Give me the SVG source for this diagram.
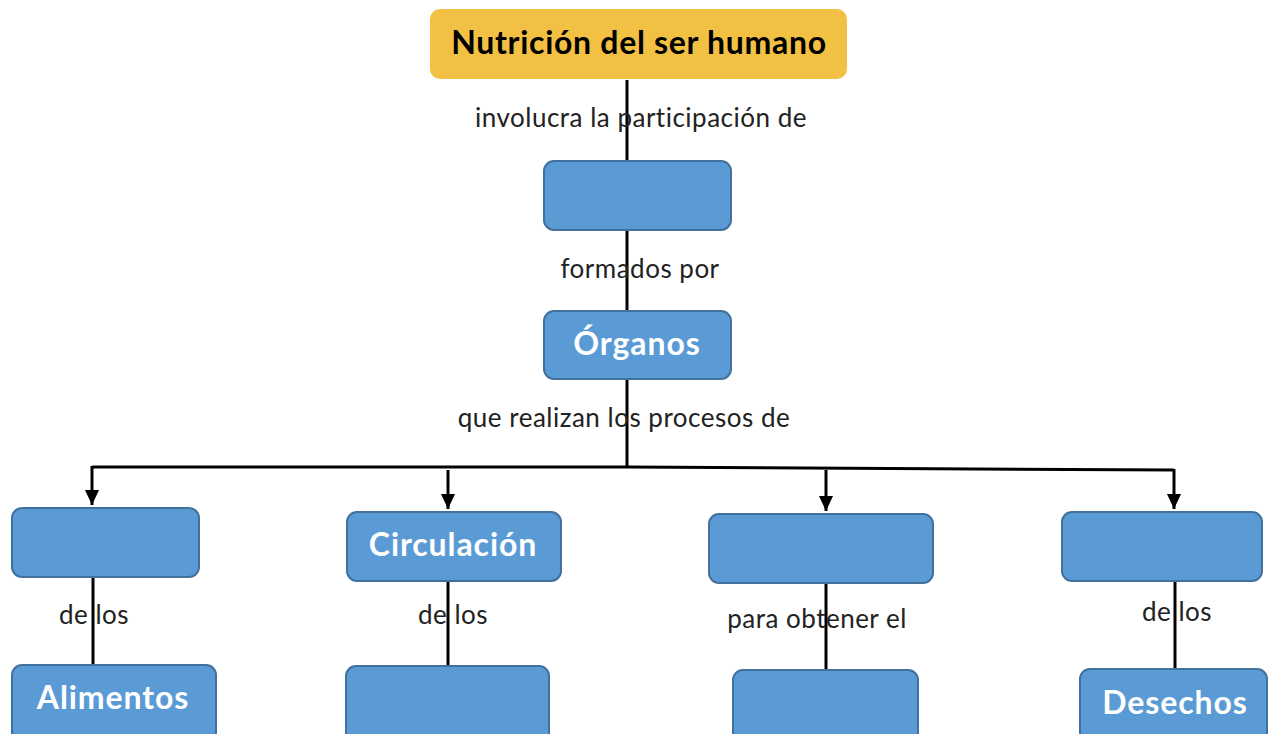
<svg xmlns="http://www.w3.org/2000/svg" width="1269" height="734" viewBox="0 0 1269 734">
<defs>
<marker id="arr" markerUnits="userSpaceOnUse" markerWidth="16" markerHeight="14" refX="15" refY="7" orient="auto" viewBox="0 0 16 14">
<path d="M0,0 L15,7 L0,14 Z" fill="#000"/>
</marker>
</defs>
<style>
.box{fill:#5b9bd5;stroke:#41719c;stroke-width:2}
.title{fill:#f2c043}
.lbl{font-family:Lato,"Open Sans",sans-serif;font-size:26px;letter-spacing:0.5px;fill:#222;text-anchor:middle}
.nt{font-family:Lato,"Open Sans",sans-serif;font-size:32px;letter-spacing:0.9px;font-weight:bold;fill:#fff;text-anchor:middle}
.tt{font-family:Lato,"Open Sans",sans-serif;font-size:32px;letter-spacing:0.7px;font-weight:bold;fill:#000;text-anchor:middle}
.ln{stroke:#000;stroke-width:3;fill:none}
</style>
<rect width="1269" height="734" fill="#fff"/>
<g id="connectors">
<line class="ln" x1="627" y1="80" x2="627" y2="161"/>
<line class="ln" x1="627" y1="230" x2="627" y2="311"/>
<polyline class="ln" points="627,379 627,467"/>
<polyline class="ln" points="92,467 627,467 1174,470"/>
<line class="ln" x1="92" y1="466" x2="92" y2="505" marker-end="url(#arr)"/>
<line class="ln" x1="448" y1="470" x2="448" y2="509" marker-end="url(#arr)"/>
<line class="ln" x1="826" y1="470" x2="826" y2="511" marker-end="url(#arr)"/>
<line class="ln" x1="1174" y1="469" x2="1174" y2="509" marker-end="url(#arr)"/>
<line class="ln" x1="93" y1="577" x2="93" y2="665"/>
<line class="ln" x1="448" y1="581" x2="448" y2="666"/>
<line class="ln" x1="826" y1="583" x2="826" y2="671"/>
<line class="ln" x1="1175" y1="581" x2="1175" y2="669"/>
<text class="lbl" x="641" y="127">involucra la participación de</text>
<text class="lbl" x="640" y="278">formados por</text>
<text class="lbl" x="624" y="427">que realizan los procesos de</text>
<text class="lbl" x="94" y="624">de los</text>
<text class="lbl" x="453" y="624">de los</text>
<text class="lbl" x="817" y="628">para obtener el</text>
<text class="lbl" x="1177" y="621">de los</text>
</g>
<g id="n-title"><rect class="title" x="430" y="9" width="417" height="70" rx="10"/><text class="tt" x="639" y="54">Nutrición del ser humano</text></g>
<g id="n-sistemas"><rect class="box" x="544" y="161" width="187" height="69" rx="10"/></g>
<g id="n-organos"><rect class="box" x="544" y="311" width="187" height="68" rx="10"/><text class="nt" x="637" y="355">Órganos</text></g>
<g id="n-p1"><rect class="box" x="12" y="508" width="187" height="69" rx="10"/></g>
<g id="n-circ"><rect class="box" x="347" y="512" width="214" height="69" rx="10"/><text class="nt" x="453" y="556">Circulación</text></g>
<g id="n-p3"><rect class="box" x="709" y="514" width="224" height="69" rx="10"/></g>
<g id="n-p4"><rect class="box" x="1062" y="512" width="200" height="69" rx="10"/></g>
<g id="n-alimentos"><rect class="box" x="12" y="665" width="204" height="80" rx="10"/><text class="nt" x="113" y="709">Alimentos</text></g>
<g id="n-b2"><rect class="box" x="346" y="666" width="203" height="80" rx="10"/></g>
<g id="n-b3"><rect class="box" x="733" y="670" width="185" height="80" rx="10"/></g>
<g id="n-desechos"><rect class="box" x="1080" y="669" width="187" height="80" rx="10"/><text class="nt" x="1175" y="714">Desechos</text></g>
</svg>
